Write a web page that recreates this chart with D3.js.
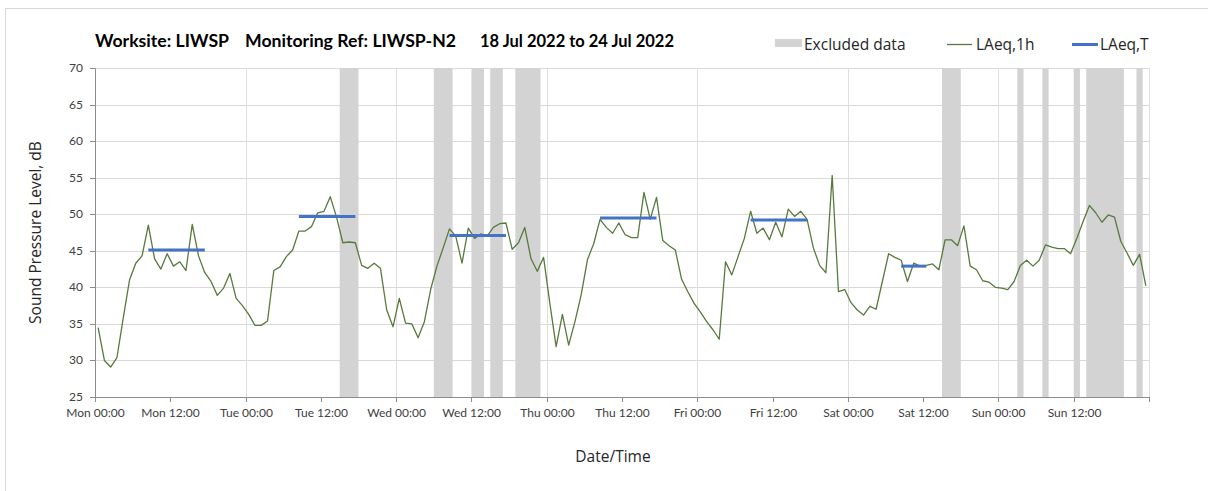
<!DOCTYPE html>
<html>
<head>
<meta charset="utf-8">
<script src="https://cdn.jsdelivr.net/npm/d3@7"></script>
<style>
  body { margin: 0; background: #ffffff; }
  svg { display: block; }
  .tick-label { font-family: Lato, sans-serif; font-size: 12px; fill: #404040; }
  .title { font-family: Lato, sans-serif; font-weight: bold; font-size: 16.5px; fill: #000000; }
  .legend-text { font-family: "Open Sans", sans-serif; font-size: 15.5px; fill: #262626; }
  .axis-title { font-family: "Open Sans", sans-serif; font-size: 15.5px; fill: #262626; }
</style>
</head>
<body>
<div id="chart"></div>
<script>
const width = 1208;
const height = 491;

const startTime = new Date(2022, 6, 18, 0, 0);
const endTime = new Date(2022, 6, 25, 0, 0);

// LAeq,1h for every hour Mon 00:00 .. Sun 23:00
const laeq1h = [
  34.5, 30.0, 29.1, 30.4, 35.8, 41.0, 43.3, 44.3, 48.5, 43.9, 42.5, 44.6,
  42.9, 43.5, 42.3, 48.6, 44.3, 42.0, 40.8, 38.9, 39.9, 41.9, 38.5, 37.5,
  36.3, 34.8, 34.8, 35.4, 42.3, 42.8, 44.2, 45.1, 47.7, 47.7, 48.3, 50.2,
  50.4, 52.4, 49.6, 46.1, 46.2, 46.1, 43.0, 42.6, 43.3, 42.6, 36.9, 34.6,
  38.5, 35.1, 35.0, 33.1, 35.3, 39.7, 42.9, 45.4, 48.0, 47.0, 43.3, 48.1,
  46.7, 47.3, 47.0, 48.2, 48.7, 48.8, 45.2, 46.1, 48.2, 43.9, 42.2, 44.1,
  37.8, 31.9, 36.3, 32.1, 35.3, 39.0, 43.8, 46.0, 49.3, 48.2, 47.4, 48.8,
  47.2, 46.8, 46.8, 53.0, 49.3, 52.3, 46.4, 45.7, 45.1, 41.1, 39.4, 37.8,
  36.6, 35.3, 34.2, 32.9, 43.5, 41.7, 44.2, 46.7, 50.4, 47.4, 48.1, 46.5,
  48.9, 46.9, 50.7, 49.7, 50.4, 49.3, 45.4, 43.0, 42.0, 55.3, 39.4, 39.7,
  37.9, 36.9, 36.2, 37.4, 37.0, 40.8, 44.6, 44.1, 43.7, 40.8, 43.3, 42.9,
  43.0, 43.2, 42.4, 46.5, 46.5, 45.7, 48.4, 42.9, 42.4, 40.9, 40.7, 40.0,
  39.9, 39.7, 40.8, 43.0, 43.7, 42.9, 43.7, 45.8, 45.5, 45.3, 45.3, 44.6,
  46.7, 49.0, 51.2, 50.2, 48.9, 49.9, 49.6, 46.3, 44.7, 43.0, 44.5, 40.2,
];

// LAeq,T working periods (hour index from Mon 00:00)
const periodFirstHour = [8, 32, 56, 80, 104, 128];
const periodLastHour = [17, 41, 65, 89, 113, 132];
const laeqT = [45.1, 49.7, 47.1, 49.5, 49.2, 42.9];

// excluded data, hours from Mon 00:00
const excludedFrom = [39, 54, 60, 63, 67, 135, 147, 151, 156, 158, 166];
const excludedTo = [42, 57, 62, 65, 71, 138, 148, 152, 157, 164, 167];

const yTicks = [25, 30, 35, 40, 45, 50, 55, 60, 65, 70];

const titleParts = [
  "Worksite: LIWSP",
  "Monitoring Ref: LIWSP-N2",
  "18 Jul 2022 to 24 Jul 2022",
];

const plot = { left: 95, right: 1149, top: 68, bottom: 397 };

const svg = d3
  .select("#chart")
  .append("svg")
  .attr("width", width)
  .attr("height", height)
  .attr("viewBox", `0 0 ${width} ${height}`);

// chart area border
svg
  .append("rect")
  .attr("x", 5.5)
  .attr("y", 8.5)
  .attr("width", 1400)
  .attr("height", 700)
  .attr("fill", "none")
  .attr("stroke", "#d9d9d9");

const x = d3
  .scaleTime()
  .domain([startTime, endTime])
  .range([plot.left, plot.right]);

const y = d3.scaleLinear().domain([25, 70]).range([plot.bottom, plot.top]);

const xGrid = x.copy().interpolate(d3.interpolateRound);
const yGrid = y.copy().interpolate(d3.interpolateRound);

const hourMid = (h) => d3.timeMinute.offset(d3.timeHour.offset(startTime, h), 30);
const hourAt = (h) => d3.timeHour.offset(startTime, h);

// horizontal gridlines
svg
  .append("g")
  .selectAll("line")
  .data(yTicks.filter((d) => d > 25))
  .enter()
  .append("line")
  .attr("x1", plot.left)
  .attr("x2", plot.right)
  .attr("y1", (d) => yGrid(d) + 0.5)
  .attr("y2", (d) => yGrid(d) + 0.5)
  .attr("stroke", "#d9d9d9")
  .attr("stroke-width", 1);

// vertical gridlines at midnight
svg
  .append("g")
  .selectAll("line")
  .data(d3.timeDay.range(d3.timeDay.offset(startTime, 1), d3.timeDay.offset(endTime, 1)))
  .enter()
  .append("line")
  .attr("x1", (d) => xGrid(d) + 0.5)
  .attr("x2", (d) => xGrid(d) + 0.5)
  .attr("y1", plot.top)
  .attr("y2", plot.bottom)
  .attr("stroke", "#dedede")
  .attr("stroke-width", 1);

// excluded data bands
svg
  .append("g")
  .selectAll("rect")
  .data(excludedFrom.map((f, i) => ({ from: f, to: excludedTo[i] })))
  .enter()
  .append("rect")
  .attr("x", (d) => x(hourAt(d.from)))
  .attr("width", (d) => x(hourAt(d.to)) - x(hourAt(d.from)))
  .attr("y", plot.top)
  .attr("height", plot.bottom - plot.top)
  .attr("fill", "#d3d3d3");

// y axis
const yAxis = svg
  .append("g")
  .attr("transform", `translate(${plot.left},0)`)
  .call(d3.axisLeft(yGrid).tickValues(yTicks).tickSize(5).tickPadding(7));

yAxis.select(".domain").attr("stroke", "#8c8c8c");
yAxis.selectAll(".tick line").attr("stroke", "#8c8c8c");
yAxis.selectAll(".tick text").attr("class", "tick-label").attr("font-family", null).attr("font-size", null);

// x axis
const xAxis = svg
  .append("g")
  .attr("transform", `translate(0,${plot.bottom})`)
  .call(
    d3
      .axisBottom(xGrid)
      .ticks(d3.timeHour.every(12))
      .tickFormat(d3.timeFormat("%a %H:%M"))
      .tickSize(5)
      .tickPadding(6),
  );

xAxis.select(".domain").attr("stroke", "#8c8c8c");
xAxis.selectAll(".tick line").attr("stroke", "#8c8c8c");
xAxis
  .selectAll(".tick text")
  .attr("class", "tick-label")
  .attr("font-family", null)
  .attr("font-size", null)
  .filter((d) => +d === +endTime)
  .remove();

// LAeq,1h line
const line = d3
  .line()
  .x((d, i) => x(hourMid(i)))
  .y((d) => y(d));

svg
  .append("path")
  .datum(laeq1h)
  .attr("fill", "none")
  .attr("stroke", "#587a3c")
  .attr("stroke-width", 1.3)
  .attr("stroke-linejoin", "round")
  .attr("d", line);

// LAeq,T segments
svg
  .append("g")
  .selectAll("line")
  .data(laeqT.map((v, i) => ({ value: v, first: periodFirstHour[i], last: periodLastHour[i] })))
  .enter()
  .append("line")
  .attr("x1", (d) => x(hourMid(d.first)))
  .attr("x2", (d) => x(hourMid(d.last)))
  .attr("y1", (d) => y(d.value))
  .attr("y2", (d) => y(d.value))
  .attr("stroke", "#4472c4")
  .attr("stroke-width", 3);

// title
const titleX = [95, 245, 480];
const titleW = [134, 211, 194];

svg
  .append("g")
  .selectAll("text")
  .data(titleParts)
  .enter()
  .append("text")
  .attr("class", "title")
  .attr("x", (d, i) => titleX[i])
  .attr("y", 47)
  .attr("textLength", (d, i) => titleW[i])
  .attr("lengthAdjust", "spacingAndGlyphs")
  .text((d) => d);

// legend
const legend = svg.append("g");

legend
  .append("rect")
  .attr("x", 775)
  .attr("y", 39)
  .attr("width", 27)
  .attr("height", 8)
  .attr("fill", "#d3d3d3");

legend
  .append("text")
  .attr("class", "legend-text")
  .attr("x", 804)
  .attr("y", 49.5)
  .text("Excluded data");

legend
  .append("line")
  .attr("x1", 947)
  .attr("x2", 972)
  .attr("y1", 44.5)
  .attr("y2", 44.5)
  .attr("stroke", "#587a3c")
  .attr("stroke-width", 1.3);

legend
  .append("text")
  .attr("class", "legend-text")
  .attr("x", 976)
  .attr("y", 49.5)
  .text("LAeq,1h");

legend
  .append("line")
  .attr("x1", 1072)
  .attr("x2", 1098)
  .attr("y1", 44.5)
  .attr("y2", 44.5)
  .attr("stroke", "#4472c4")
  .attr("stroke-width", 3);

legend
  .append("text")
  .attr("class", "legend-text")
  .attr("x", 1100)
  .attr("y", 49.5)
  .text("LAeq,T");

// axis titles
svg
  .append("text")
  .attr("class", "axis-title")
  .attr("text-anchor", "middle")
  .attr("transform", `translate(41,${(plot.top + plot.bottom) / 2}) rotate(-90)`)
  .text("Sound Pressure Level, dB");

svg
  .append("text")
  .attr("class", "axis-title")
  .attr("text-anchor", "middle")
  .attr("x", 613)
  .attr("y", 462)
  .text("Date/Time");
</script>
</body>
</html>
